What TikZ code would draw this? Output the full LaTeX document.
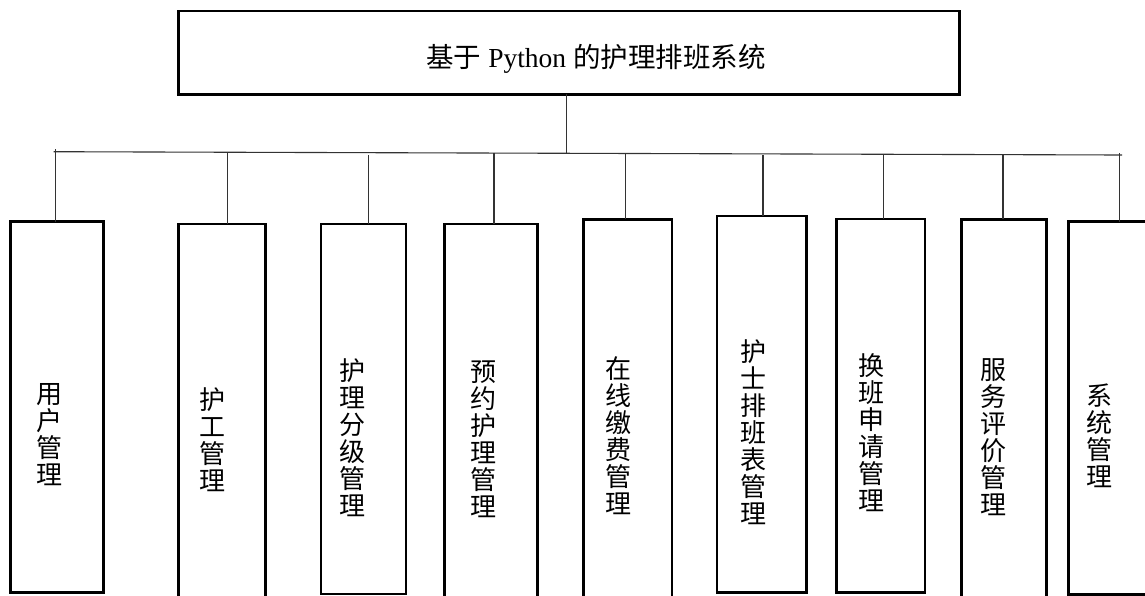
\documentclass[tikz,border=0pt]{standalone}
\usepackage{fontspec}
\setmainfont{Liberation Serif}
\newfontfamily\cjk{Noto Sans CJK SC}
\begin{document}
\begin{tikzpicture}[x=1pt,y=-1pt,
  box/.style={draw=black, line width=2.6pt, rectangle, inner sep=0pt, outer sep=0pt, anchor=north west},
  lbl/.style={font=\cjk\fontsize{26}{27}\selectfont, align=center, inner sep=0pt},
  ttl/.style={font=\fontsize{27.5}{30}\selectfont, inner sep=0pt},
  conn/.style={draw=black!80, line width=1.1pt}]
\useasboundingbox (0,0) rectangle (1145,595);
\clip (0,0) rectangle (1145,595);
% top box
\node[box, minimum width=780.8pt, minimum height=83.3pt] (top) at (178.7,11) {};
\node[ttl] (title) at (596,59) {{\cjk 基于} Python {\cjk 的护理排班系统}};
% module boxes
\node[box, minimum width=93.4pt, minimum height=371pt] (b1) at (10.3,221.7) {};
\node[box, minimum width=86.5pt, minimum height=381pt] (b2) at (178.7,224) {};
\node[box, minimum width=85pt, minimum height=370pt] (b3) at (321,224) {};
\node[box, minimum width=93pt, minimum height=381pt] (b4) at (444.7,224) {};
\node[box, minimum width=88.3pt, minimum height=386pt] (b5) at (583.7,219.3) {};
\node[box, minimum width=89.6pt, minimum height=376.3pt] (b6) at (716.8,216) {};
\node[box, minimum width=88.4pt, minimum height=373.3pt] (b7) at (836.6,219) {};
\node[box, minimum width=84.9pt, minimum height=386pt] (b8) at (961.4,219.3) {};
\node[box, minimum width=90pt, minimum height=372.6pt] (b9) at (1068.3,221.7) {};
% labels
\node[lbl] (t1) at (49.6,435) {用\\户\\管\\理};
\node[lbl] (t2) at (212,440) {护\\工\\管\\理};
\node[lbl] (t3) at (352.7,437.5) {护\\理\\分\\级\\管\\理};
\node[lbl] (t4) at (483.7,439.3) {预\\约\\护\\理\\管\\理};
\node[lbl] (t5) at (618.3,435.8) {在\\线\\缴\\费\\管\\理};
\node[lbl] (t6) at (753,431.7) {护\\士\\排\\班\\表\\管\\理};
\node[lbl] (t7) at (871.6,432.5) {换\\班\\申\\请\\管\\理};
\node[lbl] (t8) at (993.7,436.7) {服\\务\\评\\价\\管\\理};
\node[lbl] (t9) at (1099,435.8) {系\\统\\管\\理};
% connectors
\coordinate (busL) at (53.6,151.7);
\coordinate (busR) at (1122,155);
\draw[conn] (busL) -- (busR);
\coordinate (c0) at (566.4,152.5);
\draw[conn] (c0 |- top.south) -- (c0);
\coordinate (c1) at (55.5,149);
\coordinate (c2) at (227.7,152.2);
\coordinate (c3) at (368.2,155);
\coordinate (c4) at (494,152.9);
\coordinate (c5) at (625.7,153.3);
\coordinate (c6) at (763,155);
\coordinate (c7) at (883.3,155);
\coordinate (c8) at (1003,155);
\coordinate (c9) at (1119.8,153);
\foreach \i in {1,...,9}{
  \draw[conn] (c\i) -- (c\i |- b\i.north);
}
\end{tikzpicture}
\end{document}
